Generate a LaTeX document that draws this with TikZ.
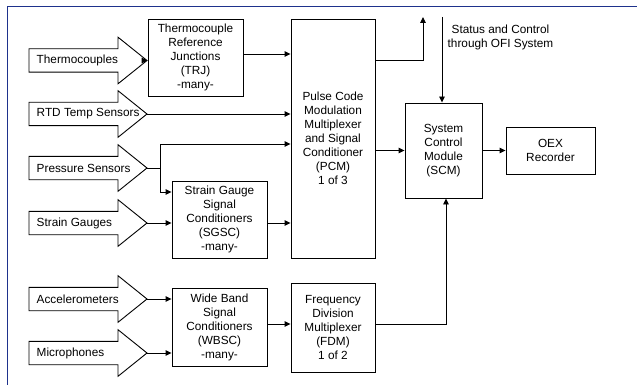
\documentclass[tikz,border=0pt]{standalone}
\usepackage{fontspec}
\setmainfont{Liberation Sans}
\usetikzlibrary{arrows.meta}
\definecolor{framecol}{RGB}{30,50,140}
\newcommand\blockarrow[3]{%
  \draw[barrow] (29,#2-11.7) -- (118,#2-11.7) -- (118,#2-23.3) -- (147,#2)
     -- (118,#2+23.3) -- (118,#2+11.7) -- (29,#2+11.7) -- cycle;
  \coordinate (#1) at (147,#2);
  \node[lab] (#1-t) at (36.5,#2) {#3};}
\begin{document}
\begin{tikzpicture}[x=1pt,y=-1pt,
  txt/.style={font=\fontsize{11.8}{14}\selectfont},
  box/.style={draw,line width=0.9pt,align=center,inner sep=1pt,txt},
  conn/.style={line width=0.9pt,-{Triangle[length=6pt,width=5.5pt]}},
  barrow/.style={draw,line width=0.9pt,fill=white},
  lab/.style={anchor=west,inner sep=0pt,txt}]
\useasboundingbox (0,0) rectangle (637,385);
\fill[white] (0,0) rectangle (637,385);
\draw[framecol,line width=1.5pt] (7.5,385) -- (7.5,6.5) -- (637,6.5);

% input block arrows
\blockarrow{thermo}{60.5}{Thermocouples}
\blockarrow{rtd}{114}{RTD Temp Sensors}
\blockarrow{press}{168}{Pressure Sensors}
\blockarrow{strain}{223}{Strain Gauges}
\blockarrow{accel}{299}{Accelerometers}
\blockarrow{mic}{353}{Microphones}

% boxes
\node[box,minimum width=95,minimum height=77] (trj) at (195.5,57.5)
  {Thermocouple\\Reference\\Junctions\\(TRJ)\\-many-};
\node[box,minimum width=84,minimum height=239] (pcm) at (333,138.5)
  {Pulse Code\\Modulation\\Multiplexer\\and Signal\\Conditioner\\(PCM)\\1 of 3};
\node[box,minimum width=95,minimum height=77] (sgsc) at (219.5,219.5)
  {Strain Gauge\\Signal\\Conditioners\\(SGSC)\\-many-};
\node[box,minimum width=95,minimum height=78] (wbsc) at (219.5,327)
  {Wide Band\\Signal\\Conditioners\\(WBSC)\\-many-};
\node[box,minimum width=84,minimum height=89] (fdm) at (333,327.5)
  {Frequency\\Division\\Multiplexer\\(FDM)\\1 of 2};
\node[box,minimum width=77,minimum height=95] (scm) at (443.5,150.5)
  {System\\Control\\Module\\(SCM)};
\node[box,minimum width=89,minimum height=47] (oex) at (550.5,150.5)
  {OEX\\Recorder};
\node[txt,align=center,inner sep=0pt] (stat) at (500.5,37)
  {Status and Control\\through OFI System};

% helper coordinates
\coordinate (trjout) at ([yshift=3.5pt]trj.east);
\coordinate (wbout) at ([yshift=3pt]wbsc.east);
\coordinate (fdmout) at ([yshift=3.5pt]fdm.east);
\coordinate (pup) at (160,144);
\coordinate (pdn) at (160,192);
\coordinate (uptip) at (423,17);
\coordinate (stattop) at (442,17);
\path (pcm.north east) ++(0,42) coordinate (pcmout);

% connectors
\draw[conn] (thermo) -- (thermo -| trj.west);
\draw[conn] (trjout) -- (trjout -| pcm.west);
\draw[conn] (rtd) -- (rtd -| pcm.west);
\draw[conn] (press) -| (pup) -- (pup -| pcm.west);
\draw[conn] (press) -| (pdn) -- (pdn -| sgsc.west);
\draw[conn] (strain) -- (strain -| sgsc.west);
\draw[conn] (strain -| sgsc.east) -- (strain -| pcm.west);
\draw[conn] (accel) -- (accel -| wbsc.west);
\draw[conn] (mic) -- (mic -| wbsc.west);
\draw[conn] (wbout) -- (wbout -| fdm.west);
\draw[conn] (fdmout) -| ([xshift=2.5pt]scm.south);
\draw[conn] (scm.west -| pcm.east) -- (scm.west);
\draw[conn] (scm.east) -- (oex.west);
\draw[conn] (pcmout) -| (uptip);
\draw[conn] (stattop) -- (stattop |- scm.north);
\end{tikzpicture}
\end{document}
